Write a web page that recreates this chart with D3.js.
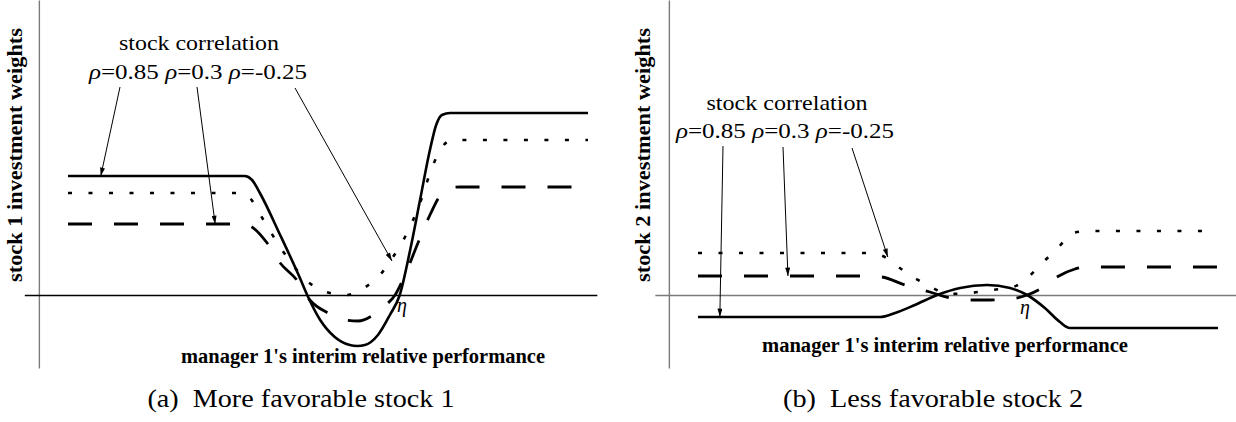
<!DOCTYPE html>
<html>
<head>
<meta charset="utf-8">
<script src="https://cdn.jsdelivr.net/npm/d3@7"></script>
<style>
  html, body { margin: 0; padding: 0; background: #fff; }
  svg { display: block; }
</style>
</head>
<body>
<svg id="chart" width="1236" height="422"></svg>
<script>
// Relative performance runs 0..100 across each panel; weights are in arbitrary units.
const stock1Rho085 = [[0,1.19],[34,1.19],[35.4,1.15],[36.9,1.02],[40.8,0.60],[44.6,0.17],[46,0],[48.5,-0.25],[51.3,-0.42],[54.2,-0.50],[55.6,-0.51],[57.1,-0.50],[59.6,-0.40],[61.9,-0.20],[63.8,0],[65.8,0.45],[67.7,0.95],[69.6,1.45],[70.8,1.70],[71.9,1.80],[73.5,1.82],[100,1.82]];
const stock1Rho03 = [[0,0.71],[33.1,0.71],[35,0.69],[38.3,0.52],[40.8,0.32],[44,0.15],[46.5,-0.05],[50,-0.18],[53.3,-0.25],[55.8,-0.26],[58.7,-0.20],[60.9,-0.11],[62.9,0],[64.8,0.20],[67.3,0.52],[69.6,0.80],[71.5,0.99],[73.5,1.07],[75.4,1.08],[100,1.08]];
const stock1RhoNeg025 = [[0,1.02],[33.1,1.02],[35,0.97],[36.9,0.81],[41.3,0.44],[46.2,0.13],[49.6,0.03],[53.5,0],[56.9,0.07],[60,0.20],[62.1,0.35],[64.4,0.54],[67.7,0.92],[70.2,1.30],[72.1,1.49],[73.8,1.55],[100,1.55]];

const stock2Rho085 = [[0,-0.22],[35,-0.22],[37.9,-0.18],[41.7,-0.10],[46,0],[50.4,0.07],[55.6,0.10],[60,0.07],[63.3,0],[66.7,-0.13],[69.6,-0.27],[71.5,-0.33],[100,-0.33]];
const stock2Rho03 = [[0,0.19],[33.1,0.19],[35.4,0.18],[39.8,0.10],[44.6,0.03],[48.5,-0.03],[52.3,-0.05],[56.2,-0.05],[60,-0.04],[63.3,0],[65.8,0.06],[69,0.18],[72.5,0.26],[74.4,0.28],[100,0.28]];
const stock2RhoNeg025 = [[0,0.42],[31.7,0.42],[35,0.40],[38.8,0.27],[41.7,0.17],[45.2,0.07],[47.9,0.01],[52.3,0.02],[56.5,0.05],[60.6,0.08],[63.3,0.17],[66.2,0.32],[69.2,0.47],[72.1,0.62],[75.4,0.64],[100,0.64]];

const rhoLabels = ["0.85", "0.3", "-0.25"];
const seriesStyles = ["solid", "dashed", "dotted"];
const yTitles = ["stock 1 investment weights", "stock 2 investment weights"];
const xTitle = "manager 1's interim relative performance";
const legendTitle = "stock correlation";
const captions = ["(a)\u2002More favorable stock 1", "(b)\u2002Less favorable stock 2"];
const etaLabel = "\u03B7";

// Points on each curve that the correlation arrows indicate.
const arrowTips1 = [[6.3,1.19],[28.3,0.71],[62.3,0.34]];
const arrowTips2 = [[4.2,-0.22],[17.3,0.19],[36.5,0.38]];

const svg = d3.select("#chart");
const font = '"Liberation Serif", "Times New Roman", serif';

const defs = svg.append("defs");
defs.append("marker")
  .attr("id", "arrowhead")
  .attr("viewBox", "0 0 10 6")
  .attr("refX", 10).attr("refY", 3)
  .attr("markerWidth", 9).attr("markerHeight", 5)
  .attr("markerUnits", "userSpaceOnUse")
  .attr("orient", "auto")
  .append("path").attr("d", "M0,0L10,3L0,6Z").attr("fill", "#000");

const yScale = d3.scaleLinear().domain([-0.73, 2.95]).range([368, 0]);

const panels = [
  {
    left: 68, series: [stock1Rho085, stock1Rho03, stock1RhoNeg025], tips: arrowTips1,
    yAxisColor: "#7a7a7a", xAxisColor: "#000", xAxisExtent: [-8.4, 101.7],
    yTitle: yTitles[0], yTitleX: 22,
    legend: { x: 199, y: 50, rowX: 89, rowY: 79, rowW: 218, titleW: 160 },
    arrowStarts: [[120,87],[197,87],[295,88]],
    eta: { x: 397, y: 312 },
    xTitle: { x: 363, y: 363, w: 364 },
    caption: { x: 301, y: 407, w: 307, text: captions[0] }
  },
  {
    left: 698, series: [stock2Rho085, stock2Rho03, stock2RhoNeg025], tips: arrowTips2,
    yAxisColor: "#7a7a7a", xAxisColor: "#7a7a7a", xAxisExtent: [-8.3, 104],
    yTitle: yTitles[1], yTitleX: 650,
    legend: { x: 787, y: 110, rowX: 676, rowY: 138, rowW: 218, titleW: 161 },
    arrowStarts: [[723,146],[783,147],[852,148]],
    eta: { x: 1020, y: 314 },
    xTitle: { x: 945, y: 352, w: 366 },
    caption: { x: 933, y: 407, w: 300, text: captions[1] }
  }
];

const styleOf = {
  solid:  { width: 2.6, dash: null, offset: 0 },
  dashed: { width: 2.8, dash: "24 22", offset: 0 },
  dotted: { width: 2.6, dash: "4 16.5", offset: 0 }
};

panels.forEach(p => {
  const x = d3.scaleLinear().domain([0, 100]).range([p.left, p.left + 520]);
  const g = svg.append("g");

  // y axis: a bare vertical rule without ticks
  const yAxisG = g.append("g")
    .attr("transform", `translate(${x(-5.6)},0)`)
    .call(d3.axisLeft(yScale).ticks(0).tickSizeOuter(0));
  yAxisG.select(".domain").attr("stroke", p.yAxisColor).attr("stroke-width", 1.4);

  // x axis at zero weight
  const xAxisScale = d3.scaleLinear().domain(p.xAxisExtent).range(p.xAxisExtent.map(x));
  const xAxisG = g.append("g")
    .attr("transform", `translate(0,${yScale(0)})`)
    .call(d3.axisBottom(xAxisScale).ticks(0).tickSizeOuter(0));
  xAxisG.select(".domain").attr("stroke", p.xAxisColor).attr("stroke-width", 1.3);

  const line = d3.line().x(d => x(d[0])).y(d => yScale(d[1])).curve(d3.curveMonotoneX);

  p.series.forEach((s, i) => {
    const st = styleOf[seriesStyles[i]];
    g.append("path")
      .attr("d", line(s))
      .attr("fill", "none")
      .attr("stroke", "#000")
      .attr("stroke-width", st.width)
      .attr("stroke-linecap", "butt")
      .attr("stroke-linejoin", "round")
      .attr("stroke-dasharray", st.dash)
      .attr("stroke-dashoffset", st.offset);
  });

  // y title
  g.append("text")
    .attr("transform", `translate(${p.yTitleX},155) rotate(-90)`)
    .attr("text-anchor", "middle")
    .attr("font-family", font).attr("font-weight", "bold").attr("font-size", 21)
    .attr("textLength", 254).attr("lengthAdjust", "spacingAndGlyphs")
    .text(p.yTitle);

  // legend block
  g.append("text")
    .attr("x", p.legend.x).attr("y", p.legend.y)
    .attr("text-anchor", "middle")
    .attr("font-family", font).attr("font-size", 22)
    .attr("textLength", p.legend.titleW).attr("lengthAdjust", "spacingAndGlyphs")
    .text(legendTitle);

  const row = g.append("text")
    .attr("x", p.legend.rowX).attr("y", p.legend.rowY)
    .attr("font-family", font).attr("font-size", 22)
    .attr("textLength", p.legend.rowW).attr("lengthAdjust", "spacingAndGlyphs");
  rhoLabels.forEach((r, i) => {
    row.append("tspan").attr("font-style", "italic").text((i ? " " : "") + "\u03C1");
    row.append("tspan").text("=" + r);
  });

  // arrows from each correlation to its curve
  p.tips.forEach((t, i) => {
    const [sx, sy] = p.arrowStarts[i];
    g.append("line")
      .attr("x1", sx).attr("y1", sy)
      .attr("x2", x(t[0])).attr("y2", yScale(t[1]))
      .attr("stroke", "#000").attr("stroke-width", 1)
      .attr("marker-end", "url(#arrowhead)");
  });

  // eta marker at the second crossing
  g.append("text")
    .attr("x", p.eta.x).attr("y", p.eta.y)
    .attr("font-family", font).attr("font-style", "italic").attr("font-size", 20)
    .text(etaLabel);

  // x title
  g.append("text")
    .attr("x", p.xTitle.x).attr("y", p.xTitle.y)
    .attr("text-anchor", "middle")
    .attr("font-family", font).attr("font-weight", "bold").attr("font-size", 20)
    .attr("textLength", p.xTitle.w).attr("lengthAdjust", "spacingAndGlyphs")
    .text(xTitle);

  // sub-caption
  g.append("text")
    .attr("x", p.caption.x).attr("y", p.caption.y)
    .attr("text-anchor", "middle")
    .attr("font-family", font).attr("font-size", 26)
    .attr("textLength", p.caption.w).attr("lengthAdjust", "spacingAndGlyphs")
    .text(p.caption.text);
});
</script>
</body>
</html>
